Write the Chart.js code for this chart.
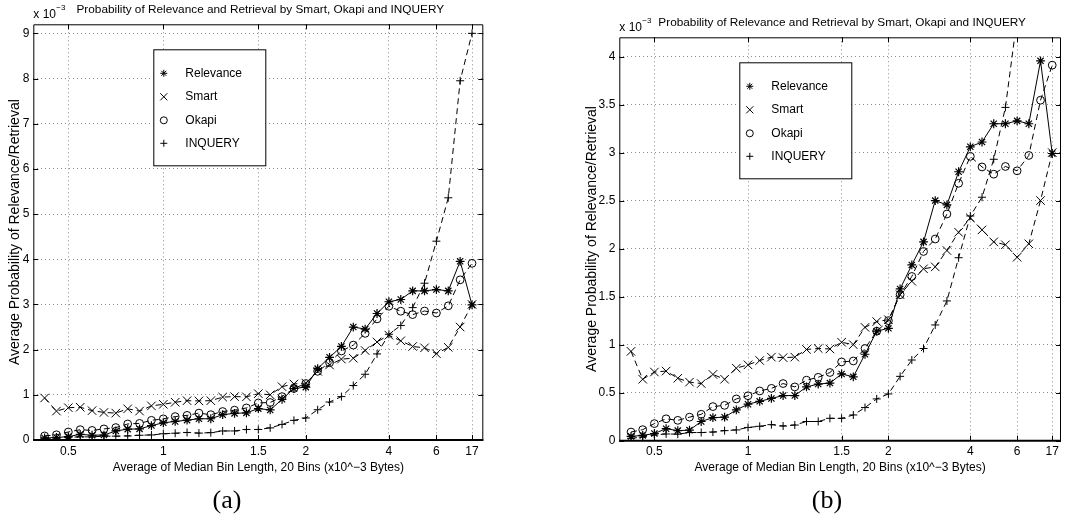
<!DOCTYPE html>
<html lang="en">
<head>
<meta charset="UTF-8">
<title>Probability of Relevance and Retrieval by Smart, Okapi and INQUERY</title>
<script src="https://cdn.jsdelivr.net/npm/chart.js@4.4.1/dist/chart.umd.min.js"></script>
<style>
    body {
        margin: 0;
        width: 1068px;
        height: 521px;
        overflow: hidden;
        position: relative;
        background: #fff;
    }
    .panel {
        position: absolute;
        top: 0;
    }
    #panelA { left: 0; }
    #panelB { left: 530px; }
    .caption {
        position: absolute;
        top: 485px;
        transform: translateX(-50%);
        font-family: "Liberation Serif", "Times New Roman", serif;
        font-size: 26px;
        line-height: 30px;
        color: #000;
    }
</style>
</head>
<body>
    <div class="panel" id="panelA"><canvas id="chartA" width="530" height="521"></canvas></div>
    <div class="panel" id="panelB"><canvas id="chartB" width="538" height="521"></canvas></div>
    <div class="caption" style="left:227px">(a)</div>
    <div class="caption" style="left:827px">(b)</div>

<script>
    // bin positions (one per bin, plotted evenly spaced) and the labelled ones
    const binPos = [0, 1, 2, 3, 4, 5, 6, 7, 8, 9, 10, 11, 12, 13, 14, 15, 16, 17, 18,
        19, 20, 21, 22, 23, 24, 25, 26, 27, 28, 29, 30, 31, 32, 33, 34, 35, 36];
    const tickPos = [2, 10, 18, 22, 29, 33, 36];
    const tickText = ['0.5', '1', '1.5', '2', '4', '6', '17'];

    // values in units of 10^-3
    const relevance = [0.045, 0.055, 0.075, 0.125, 0.105, 0.11, 0.2, 0.24, 0.245, 0.32,
        0.38, 0.41, 0.44, 0.47, 0.47, 0.56, 0.59, 0.6, 0.695, 0.665,
        0.9, 1.14, 1.17, 1.58, 1.83, 2.07, 2.5, 2.455, 2.8, 3.06,
        3.11, 3.3, 3.3, 3.33, 3.3, 3.955, 2.99];
    const smart = [0.93, 0.64, 0.715, 0.725, 0.65, 0.61, 0.595, 0.69, 0.64, 0.755,
        0.79, 0.835, 0.87, 0.865, 0.87, 0.95, 0.96, 0.955, 1.025, 1.0,
        1.18, 1.24, 1.26, 1.52, 1.66, 1.79, 1.81, 1.98, 2.17, 2.32,
        2.195, 2.07, 2.04, 1.91, 2.05, 2.5, 3.0];
    const okapi = [0.09, 0.115, 0.178, 0.228, 0.212, 0.245, 0.275, 0.355, 0.368, 0.435,
        0.468, 0.518, 0.545, 0.595, 0.56, 0.63, 0.66, 0.71, 0.82, 0.83,
        0.96, 1.14, 1.25, 1.52, 1.71, 1.97, 2.1, 2.36, 2.68, 2.96,
        2.85, 2.775, 2.855, 2.81, 2.97, 3.545, 3.91];
    const inquery = [0.025, 0.038, 0.06, 0.07, 0.068, 0.085, 0.085, 0.09, 0.105, 0.112,
        0.138, 0.15, 0.167, 0.153, 0.163, 0.2, 0.2, 0.233, 0.233, 0.268,
        0.345, 0.435, 0.487, 0.67, 0.84, 0.96, 1.205, 1.455, 1.905, 2.34,
        2.535, 2.93, 3.47, 4.4, 5.36, 7.95, 9.0];

    const titleText = 'Probability of Relevance and Retrieval by Smart, Okapi and INQUERY';
    const xTitle = 'Average of Median Bin Length, 20 Bins (x10^\u22123 Bytes)';
    const yTitle = 'Average Probability of Relevance/Retrieval';
    const fontFamily = '"Liberation Sans", Arial, Helvetica, sans-serif';

    Chart.defaults.font.family = fontFamily;
    Chart.defaults.color = '#000';

    function points(values) {
        return values.map((v, i) => ({ x: binPos[i], y: v }));
    }

    function makeDatasets() {
        const base = {
            borderColor: '#000',
            borderWidth: 1,
            pointBorderColor: '#000',
            pointBackgroundColor: 'rgba(0,0,0,0)',
            pointBorderWidth: 1,
            tension: 0,
            fill: false,
            clip: 0
        };
        return [
            { label: 'Relevance', data: points(relevance), pointStyle: 'star', pointRadius: 4.4, pointBorderWidth: 1.2, borderDash: [] },
            { label: 'Smart', data: points(smart), pointStyle: 'crossRot', pointRadius: 6, borderDash: [6, 4] },
            { label: 'Okapi', data: points(okapi), pointStyle: 'circle', pointRadius: 3.9, borderDash: [6, 4] },
            { label: 'INQUERY', data: points(inquery), pointStyle: 'cross', pointRadius: 4, borderDash: [6, 4] }
        ].map(d => Object.assign({}, base, d));
    }

    // frame, inward tick marks, exponent label, title and the boxed legend
    const decor = {
        id: 'decor',
        afterDraw(chart) {
            const { ctx, chartArea: a, scales } = chart;
            const L = a.left, R = a.right, T = a.top, B = a.bottom;
            ctx.save();
            ctx.setLineDash([]);
            ctx.strokeStyle = '#000';
            ctx.lineWidth = 1;

            // axes box
            ctx.beginPath();
            ctx.moveTo(L + 0.5, B);
            ctx.lineTo(L + 0.5, T + 0.5);
            ctx.lineTo(R - 0.5, T + 0.5);
            ctx.lineTo(R - 0.5, B);
            ctx.stroke();
            ctx.lineWidth = 2;
            ctx.beginPath();
            ctx.moveTo(L, B);
            ctx.lineTo(R, B);
            ctx.stroke();

            // tick marks pointing inwards
            ctx.lineWidth = 1;
            ctx.beginPath();
            scales.x.ticks.forEach(t => {
                const px = Math.round(scales.x.getPixelForValue(t.value)) + 0.5;
                ctx.moveTo(px, B); ctx.lineTo(px, B - 5);
                ctx.moveTo(px, T); ctx.lineTo(px, T + 5);
            });
            scales.y.ticks.forEach(t => {
                const py = Math.round(scales.y.getPixelForValue(t.value)) + 0.5;
                ctx.moveTo(L, py); ctx.lineTo(L + 5, py);
                ctx.moveTo(R, py); ctx.lineTo(R - 5, py);
            });
            ctx.stroke();

            // exponent and title
            ctx.fillStyle = '#000';
            ctx.textBaseline = 'alphabetic';
            ctx.textAlign = 'left';
            ctx.font = '12px ' + fontFamily;
            ctx.fillText('x 10', L, T - 6);
            ctx.font = '8px ' + fontFamily;
            ctx.fillText('\u22123', L + 23, T - 14);
            ctx.font = '11.8px ' + fontFamily;
            ctx.textAlign = 'center';
            ctx.fillText(titleText, (L + R) / 2 + 2, T - 11.5);

            // legend box
            const bx = L + 120, by = T + 25, bw = 112, bh = 116;
            ctx.fillStyle = '#fff';
            ctx.fillRect(bx, by, bw, bh);
            ctx.strokeStyle = '#000';
            ctx.lineWidth = 1;
            ctx.strokeRect(bx + 0.5, by + 0.5, bw, bh);
            const rows = [24, 47.5, 71, 94];
            chart.data.datasets.forEach((ds, i) => {
                const y = by + rows[i];
                ctx.fillStyle = 'rgba(0,0,0,0)';
                ctx.strokeStyle = '#000';
                ctx.lineWidth = 1;
                Chart.helpers.drawPoint(ctx, {
                    pointStyle: ds.pointStyle,
                    radius: ds.pointStyle === 'crossRot' ? 5 : 3.5,
                    rotation: 0,
                    borderWidth: 1
                }, bx + 10.5, y);
                ctx.fillStyle = '#000';
                ctx.font = '12px ' + fontFamily;
                ctx.textAlign = 'left';
                ctx.textBaseline = 'middle';
                ctx.fillText(ds.label, bx + 32, y);
            });
            ctx.restore();
        }
    };

    function makeChart(id, cfg) {
        return new Chart(document.getElementById(id), {
            type: 'line',
            data: { datasets: makeDatasets() },
            options: {
                responsive: false,
                animation: false,
                events: [],
                layout: { padding: cfg.padding },
                plugins: {
                    legend: { display: false },
                    tooltip: { enabled: false },
                    title: { display: false }
                },
                scales: {
                    x: {
                        type: 'linear',
                        min: cfg.xMin,
                        max: cfg.xMax,
                        afterBuildTicks: scale => {
                            scale.ticks = tickPos.map(v => ({ value: v }));
                        },
                        afterFit: scale => { scale.height = cfg.xAxisHeight; },
                        ticks: {
                            callback: v => tickText[tickPos.indexOf(v)],
                            font: { size: 12 },
                            padding: 4,
                            maxRotation: 0,
                            autoSkip: false
                        },
                        grid: { color: '#8c8c8c', drawTicks: false },
                        border: { display: false, dash: [1, 3] },
                        title: { display: true, text: xTitle, font: { size: 12 }, padding: 0 }
                    },
                    y: {
                        min: 0,
                        max: cfg.yMax,
                        afterFit: scale => { scale.width = cfg.yAxisWidth; },
                        ticks: {
                            stepSize: cfg.yStep,
                            includeBounds: false,
                            callback: v => String(Number(v)),
                            font: { size: 12 },
                            padding: 4
                        },
                        grid: { color: '#8c8c8c', drawTicks: false },
                        border: { display: false, dash: [1, 3] },
                        title: { display: true, text: yTitle, font: { size: 14 }, padding: 0 }
                    }
                }
            },
            plugins: [decor]
        });
    }

    makeChart('chartA', {
        padding: { left: 6.6, top: 24.3, right: 46.7, bottom: 45.8 },
        xMin: -0.95, xMax: 36.95,
        yMax: 9.2, yStep: 1,
        xAxisHeight: 35.2, yAxisWidth: 26.7
    });

    makeChart('chartB', {
        padding: { left: 53.6, top: 37.3, right: 0, bottom: 46.5 },
        xMin: -1.0, xMax: 36.75,
        yMax: 4.2, yStep: 0.5,
        xAxisHeight: 33.8, yAxisWidth: 35.7
    });
</script>
</body>
</html>
